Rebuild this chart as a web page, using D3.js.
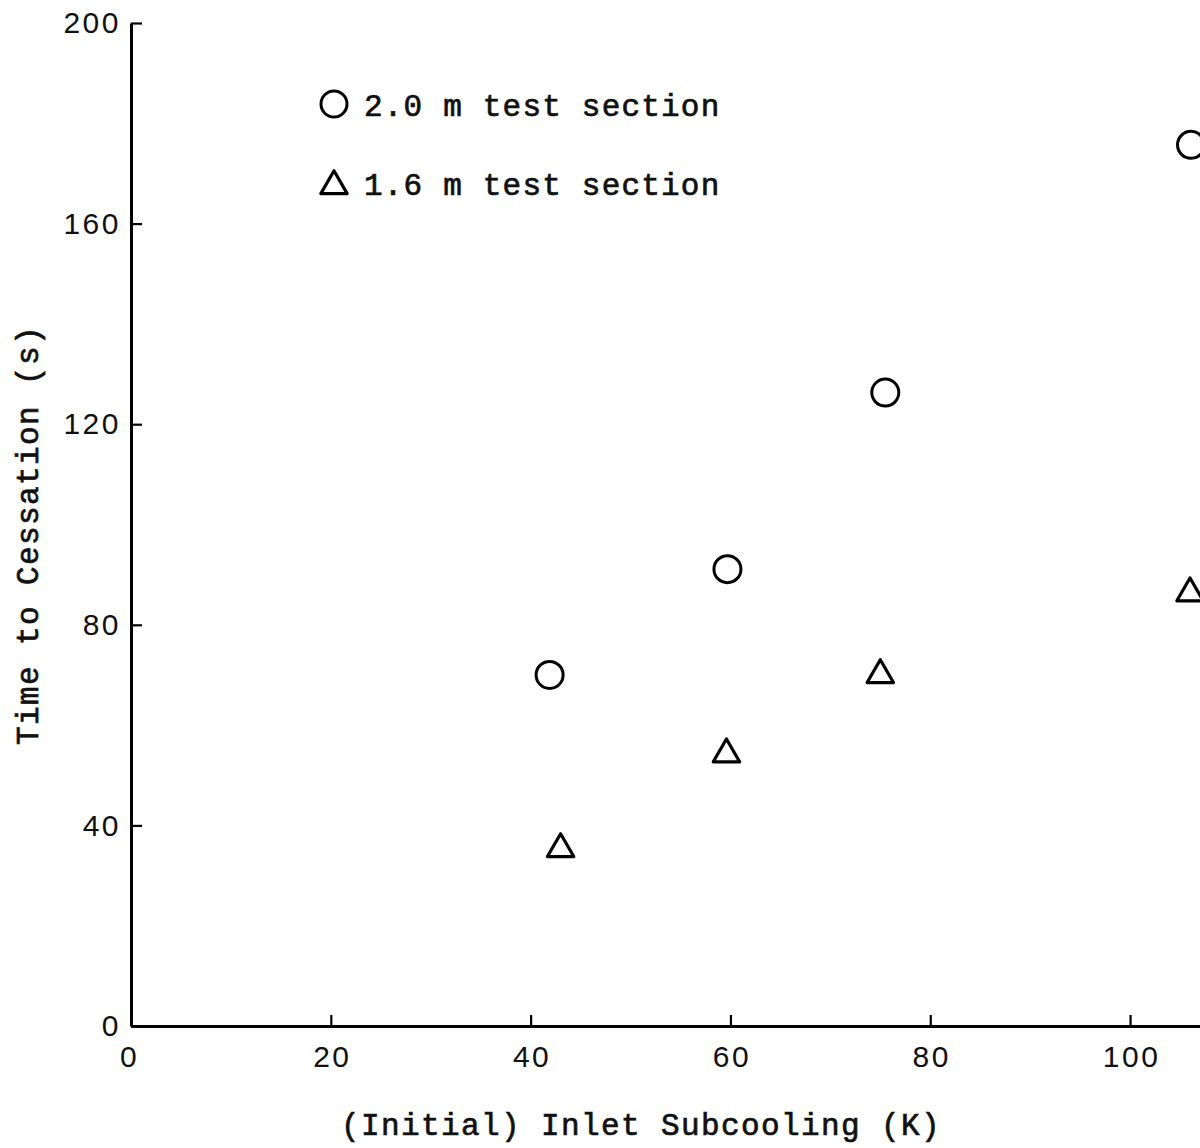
<!DOCTYPE html>
<html>
<head>
<meta charset="utf-8">
<script src="https://cdn.jsdelivr.net/npm/d3@7/dist/d3.min.js"></script>
<style>
  html, body { margin: 0; padding: 0; background: #fff; }
  svg { display: block; }
</style>
</head>
<body>
<svg id="chart" width="1200" height="1148"></svg>
<script>
// ---- data ----
const circleX = [41.9, 59.7, 75.5, 106.1];      // 2.0 m test section
const circleY = [70.0, 91.1, 126.3, 175.7];
const triangleX = [43.0, 59.6, 75.0, 106.0];    // 1.6 m test section
const triangleY = [35.3, 54.2, 70.0, 86.3];
const xTicks = [0, 20, 40, 60, 80, 100];
const yTicks = [0, 40, 80, 120, 160, 200];
const legendLabels = ["2.0 m test section", "1.6 m test section"];
const xTitle = "(Initial) Inlet Subcooling (K)";
const yTitle = "Time to Cessation (s)";

// ---- layout ----
const svg = d3.select("#chart");
const x = d3.scaleLinear().domain([0, 107]).range([131, 1200]);
const y = d3.scaleLinear().domain([0, 200]).range([1026, 23]);

const mono = "'Liberation Mono', 'Courier New', monospace";
const sans = "'Liberation Sans', Arial, sans-serif";

// axes
const xAxis = d3.axisBottom(x).tickValues(xTicks).tickSizeInner(-11).tickSizeOuter(0).tickPadding(20).tickFormat(d3.format("d"));
const yAxis = d3.axisLeft(y).tickValues(yTicks).tickSizeInner(-11).tickSizeOuter(0).tickPadding(10).tickFormat(d3.format("d"));

const gx = svg.append("g").attr("transform", `translate(0,${y(0)})`).call(xAxis);
const gy = svg.append("g").attr("transform", `translate(${x(0)},0)`).call(yAxis);

[gx, gy].forEach(g => {
  g.select(".domain").attr("stroke", "#000").attr("stroke-width", 3);
  g.selectAll(".tick line").attr("stroke", "#000").attr("stroke-width", 2.2);
  g.selectAll(".tick text")
    .attr("fill", "#111")
    .style("font-family", sans)
    .style("font-size", "30px")
    .style("letter-spacing", "2.5px");
});
gx.selectAll(".tick text").attr("dx", "1px");
gx.selectAll(".tick").filter(d => d === 0).select("text").attr("dx", "-2px");

// axis titles
svg.append("text")
  .attr("x", 641).attr("y", 1135)
  .attr("text-anchor", "middle")
  .style("font-family", mono).style("font-size", "31px").style("letter-spacing", "1.4px")
  .attr("fill", "#111").attr("stroke", "#111").attr("stroke-width", 0.7)
  .text(xTitle);

svg.append("text")
  .attr("transform", "translate(38,535) rotate(-90)")
  .attr("text-anchor", "middle")
  .style("font-family", mono).style("font-size", "31px").style("letter-spacing", "1.4px")
  .attr("fill", "#111").attr("stroke", "#111").attr("stroke-width", 0.7)
  .text(yTitle);

// markers
const circles = circleX.map((v, i) => ({ x: v, y: circleY[i] }));
const triangles = triangleX.map((v, i) => ({ x: v, y: triangleY[i] }));

svg.append("g").selectAll("circle").data(circles).join("circle")
  .attr("cx", d => x(d.x)).attr("cy", d => y(d.y)).attr("r", 13.5)
  .attr("fill", "none").attr("stroke", "#000").attr("stroke-width", 3);

const tri = d3.symbol().type(d3.symbolTriangle).size(300)();
svg.append("g").selectAll("path").data(triangles).join("path")
  .attr("d", tri)
  .attr("transform", d => `translate(${x(d.x)},${y(d.y)})`)
  .attr("fill", "none").attr("stroke", "#000").attr("stroke-width", 3.2)
  .attr("stroke-linejoin", "round");

// legend
const lg = svg.append("g");
lg.append("circle").attr("cx", 334).attr("cy", 104).attr("r", 13)
  .attr("fill", "none").attr("stroke", "#000").attr("stroke-width", 3);
lg.append("path").attr("d", tri).attr("transform", "translate(334,186)")
  .attr("fill", "none").attr("stroke", "#000").attr("stroke-width", 3.2)
  .attr("stroke-linejoin", "round");
lg.selectAll("text").data(legendLabels).join("text")
  .attr("x", 364).attr("y", (d, i) => 116 + i * 79)
  .style("font-family", mono).style("font-size", "31px").style("letter-spacing", "1.2px")
  .attr("fill", "#111").attr("stroke", "#111").attr("stroke-width", 0.7)
  .text(d => d);
</script>
</body>
</html>
